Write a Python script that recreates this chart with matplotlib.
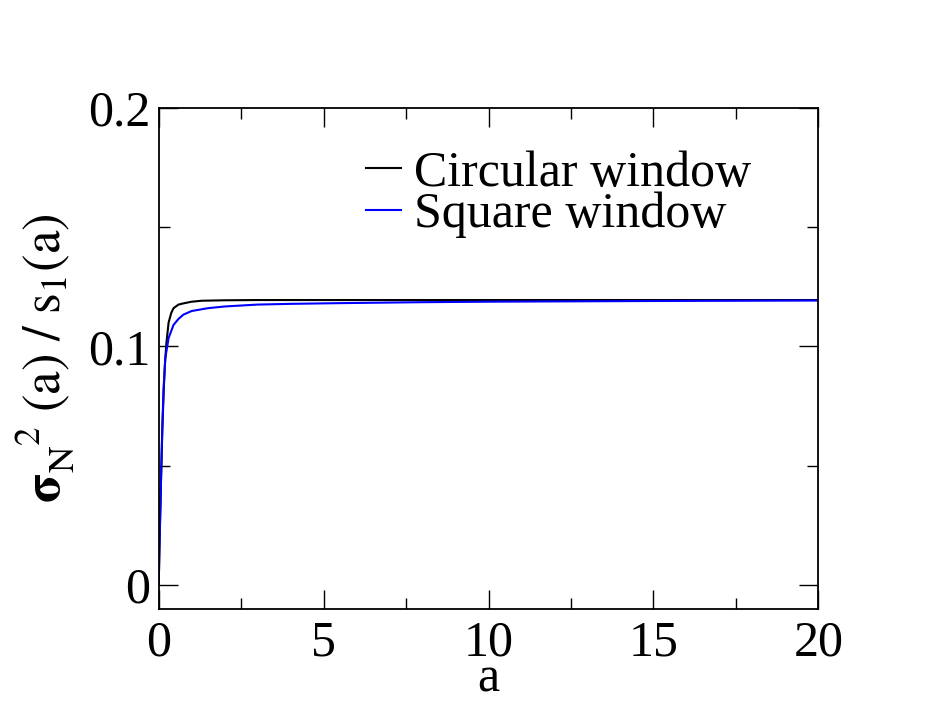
import matplotlib
matplotlib.use("Agg")
import matplotlib.pyplot as plt
from matplotlib.ticker import MultipleLocator

plt.rcParams['font.family'] = ['Liberation Serif', 'DejaVu Serif']
plt.rcParams['mathtext.fontset'] = 'stix'

# Circular window
a_circ = [0, 0.03, 0.07, 0.11, 0.15, 0.19, 0.23, 0.3, 0.38, 0.45, 0.6, 0.75,
          1.0, 1.3, 2, 3, 5, 10, 20]
v_circ = [0.0, 0.02, 0.044, 0.065, 0.081, 0.093, 0.101, 0.110, 0.114, 0.116,
          0.1175, 0.118, 0.1187, 0.1191, 0.1193, 0.1194, 0.1194, 0.1194, 0.1194]

# Square window
a_sq = [0, 0.02, 0.05, 0.08, 0.11, 0.15, 0.2, 0.3, 0.45, 0.6, 0.75, 1.0, 1.5,
        2, 3, 4, 5.5, 8, 10, 15, 20]
v_sq = [0.0, 0.015, 0.032, 0.05, 0.067, 0.083, 0.095, 0.1035, 0.109, 0.1115,
        0.1133, 0.1148, 0.116, 0.1167, 0.1175, 0.1178, 0.1181, 0.1185, 0.1187,
        0.119, 0.1192]

labels = ["Circular window", "Square window"]
colors = ["black", "blue"]
xticks = [0, 5, 10, 15, 20]
yticks = [0, 0.1, 0.2]
yticklabels = ["0", "0.1", "0.2"]

fig = plt.figure(figsize=(9.26, 7.16), dpi=100)
ax = fig.add_axes([0.1714, 0.149, 0.8837 - 0.1714, 0.8496 - 0.149])

ax.plot(a_circ, v_circ, color=colors[0], lw=1.5, label=labels[0])
ax.plot(a_sq, v_sq, color=colors[1], lw=1.5, label=labels[1])

ax.set_xlim(0, 20)
ax.set_ylim(-0.0102, 0.2)
ax.set_xticks(xticks)
ax.set_xticklabels([str(x) for x in xticks])
ax.xaxis.set_minor_locator(MultipleLocator(2.5))
ax.set_yticks(yticks)
ax.set_yticklabels(yticklabels)
ax.yaxis.set_minor_locator(MultipleLocator(0.05))

ax.tick_params(which='both', direction='in', top=True, right=True,
               width=1.0, labelsize=36)
ax.tick_params(which='major', length=14, pad=6)
ax.tick_params(which='minor', length=8)
ax.tick_params(axis='x', pad=8)
for s in ax.spines.values():
    s.set_linewidth(1.3)

ax.set_xlabel("a", fontsize=36, labelpad=-8)
ax.set_ylabel(r"$\mathbf{\sigma}_{\mathrm{N}}^{\ \ \ 2}\ \mathrm{(a)\ /\ s_{1}(a)}$",
              fontsize=38, labelpad=9)

leg = ax.legend(loc='upper left', bbox_to_anchor=(0.277, 0.965), fontsize=36,
                frameon=False, handlelength=0.7, handletextpad=0.25,
                labelspacing=-0.1, borderpad=0)

fig.savefig("out.png", dpi=100)
